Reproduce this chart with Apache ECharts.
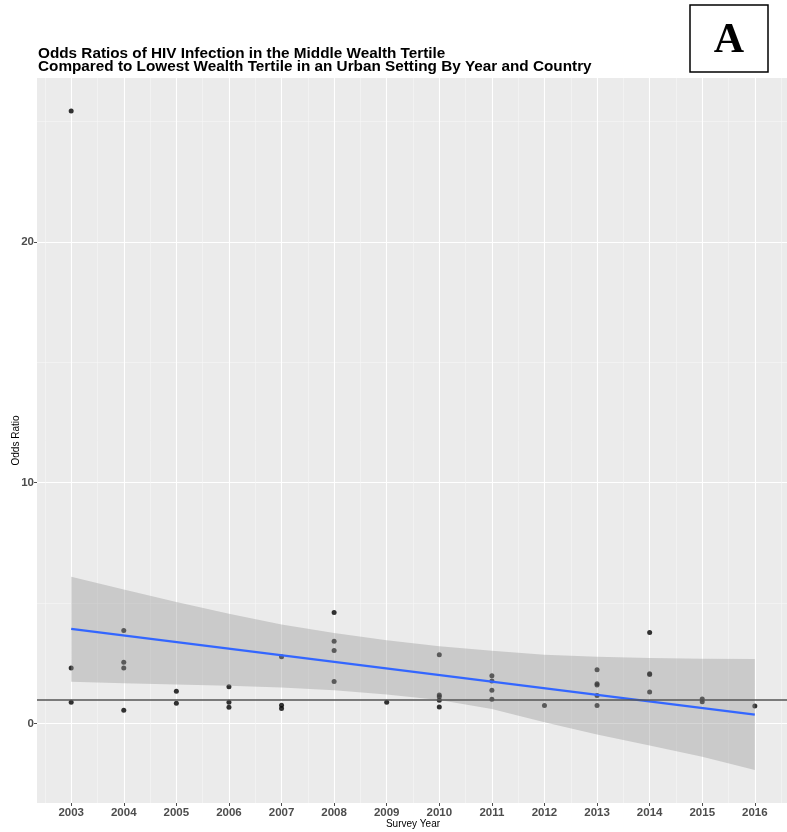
<!DOCTYPE html>
<html>
<head>
<meta charset="utf-8">
<script src="https://cdn.jsdelivr.net/npm/echarts@6/dist/echarts.min.js"></script>
<style>
html,body{margin:0;padding:0;background:#fff;}
#chart{width:787px;height:832px;}
</style>
</head>
<body>
<div id="chart"></div>
<script>
// ---- data ----
const titleLines = [
  "Odds Ratios of HIV Infection in the Middle Wealth Tertile",
  "Compared to Lowest Wealth Tertile in an Urban Setting By Year and Country"
];
const panelLetter = "A";
const xAxisTitle = "Survey Year";
const yAxisTitle = "Odds Ratio";

const yearTicks = [2003, 2004, 2005, 2006, 2007, 2008, 2009, 2010, 2011, 2012, 2013, 2014, 2015, 2016];
const oddsTicks = [0, 10, 20];

const pointYears = [
  2003, 2003, 2003,
  2004, 2004, 2004, 2004,
  2005, 2005,
  2006, 2006, 2006,
  2007, 2007, 2007,
  2008, 2008, 2008, 2008,
  2009,
  2010, 2010, 2010, 2010, 2010,
  2011, 2011, 2011, 2011,
  2012,
  2013, 2013, 2013, 2013, 2013,
  2014, 2014, 2014, 2014,
  2015, 2015,
  2016
];
const pointOdds = [
  25.43, 2.31, 0.88,
  3.86, 2.54, 2.31, 0.55,
  1.34, 0.84,
  1.53, 0.88, 0.68,
  2.77, 0.76, 0.62,
  4.61, 3.42, 3.03, 1.74,
  0.88,
  2.85, 1.18, 1.11, 0.97, 0.69,
  1.98, 1.76, 1.38, 1.01,
  0.75,
  2.23, 1.65, 1.60, 1.16, 0.75,
  3.78, 2.07, 2.03, 1.31,
  1.02, 0.90,
  0.73
];

const fitYears = [2003, 2016];
const fitOdds = [3.93, 0.37];

const ciYears = [2003, 2004, 2005, 2006, 2007, 2008, 2009, 2010, 2011, 2012, 2013, 2014, 2015, 2016];
const ciLower = [1.73, 1.67, 1.62, 1.57, 1.50, 1.38, 1.20, 0.98, 0.60, 0.05, -0.46, -0.91, -1.38, -1.93];
const ciUpper = [6.09, 5.56, 5.05, 4.56, 4.11, 3.76, 3.46, 3.21, 3.02, 2.86, 2.77, 2.72, 2.69, 2.68];

const referenceOdds = 1;

// ---- build ----
const xMin = 2002.35, xMax = 2016.65;
const yMin = -3.3, yMax = 26.8;
const minorYears = yearTicks.map(y => y - 0.5).concat([yearTicks[yearTicks.length - 1] + 0.5]);
const minorOdds = oddsTicks.map(v => v + 5);

const scatterData = pointYears.map((y, i) => [y, pointOdds[i]]);
const fitData = fitYears.map((y, i) => [y, fitOdds[i]]);
const bandData = ciYears.map((y, i) => [y, ciLower[i], ciUpper[i]]);

const tickLabelStyle = {color: '#4d4d4d', fontSize: 11.5, fontWeight: 'bold', fontFamily: 'Liberation Sans'};

function renderBand(params, api) {
  if (params.dataIndex !== 0) return null;
  const upper = [], lower = [];
  for (let j = 0; j < bandData.length; j++) {
    const x = api.value(0, j);
    upper.push(api.coord([x, api.value(2, j)]));
    lower.push(api.coord([x, api.value(1, j)]));
  }
  const pts = upper.concat(lower.reverse());
  return {
    type: 'polygon',
    shape: {points: pts},
    style: {fill: 'rgba(153,153,153,0.4)', stroke: null},
    silent: true
  };
}

const chart = echarts.init(document.getElementById('chart'), null, {renderer: 'canvas'});
chart.setOption({
  animation: false,
  backgroundColor: '#ffffff',
  title: {
    text: titleLines.join('\n'),
    left: 38,
    top: 47,
    padding: 0,
    textStyle: {fontFamily: 'Liberation Sans', fontWeight: 'bold', fontSize: 15.3, lineHeight: 13.5, color: '#000'}
  },
  graphic: [
    {type: 'rect', shape: {x: 690, y: 5, width: 78, height: 67},
     style: {fill: '#fff', stroke: '#000', lineWidth: 1.5}, z: 100},
    {type: 'text',
     style: {text: panelLetter, font: 'bold 42px "Liberation Serif"', fill: '#000', x: 729, y: 41, align: 'center', verticalAlign: 'middle'},
     z: 101}
  ],
  grid: {left: 37, top: 78, width: 752, height: 725, backgroundColor: '#EBEBEB', show: true, borderWidth: 0,
         containLabel: false, outerBoundsMode: 'none'},
  xAxis: [
    {type: 'value', min: xMin, max: xMax, position: 'bottom',
     name: xAxisTitle, nameLocation: 'middle', nameGap: 16, nameMoveOverlap: false,
     nameTextStyle: {fontFamily: 'Liberation Sans', fontSize: 10, color: '#000'},
     axisLine: {show: false, onZero: false},
     axisTick: {show: true, length: 3, customValues: yearTicks, lineStyle: {color: '#4d4d4d', width: 1}},
     axisLabel: {customValues: yearTicks, margin: 4, formatter: v => String(v), ...tickLabelStyle},
     splitLine: {show: true, lineStyle: {color: '#ffffff', width: 1.1}}
    },
    {type: 'value', min: xMin, max: xMax, position: 'bottom',
     axisLine: {show: false, onZero: false},
     axisTick: {show: false, customValues: minorYears},
     axisLabel: {show: false, customValues: minorYears},
     splitLine: {show: true, lineStyle: {color: '#F7F7F7', width: 0.6}}
    }
  ],
  yAxis: [
    {type: 'value', min: yMin, max: yMax, position: 'left',
     name: yAxisTitle, nameLocation: 'middle', nameGap: 15.5, nameRotate: 90, nameMoveOverlap: false,
     nameTextStyle: {fontFamily: 'Liberation Sans', fontSize: 10, color: '#000'},
     axisLine: {show: false, onZero: false},
     axisTick: {show: true, length: 3, customValues: oddsTicks, lineStyle: {color: '#4d4d4d', width: 1}},
     axisLabel: {customValues: oddsTicks, margin: 3, formatter: v => String(v), ...tickLabelStyle},
     splitLine: {show: true, lineStyle: {color: '#ffffff', width: 1.1}}
    },
    {type: 'value', min: yMin, max: yMax, position: 'left',
     axisLine: {show: false, onZero: false},
     axisTick: {show: false, customValues: minorOdds},
     axisLabel: {show: false, customValues: minorOdds},
     splitLine: {show: true, lineStyle: {color: '#F7F7F7', width: 0.6}}
    }
  ],
  series: [
    {type: 'scatter', xAxisIndex: 0, yAxisIndex: 0, data: scatterData, symbol: 'circle', symbolSize: 5,
     itemStyle: {color: '#000'}, z: 2, silent: true},
    {type: 'custom', xAxisIndex: 0, yAxisIndex: 0, data: bandData, renderItem: renderBand,
     encode: {x: 0, y: [1, 2]}, z: 3, silent: true, clip: true},
    {type: 'line', xAxisIndex: 0, yAxisIndex: 0, data: fitData, symbol: 'none',
     lineStyle: {color: '#3366FF', width: 2.2}, z: 4, silent: true,
     markLine: {silent: true, symbol: 'none', label: {show: false},
       lineStyle: {color: '#555555', width: 1.5, type: 'solid'},
       data: [{yAxis: referenceOdds}], z: 5}
    }
  ]
});
</script>
</body>
</html>
